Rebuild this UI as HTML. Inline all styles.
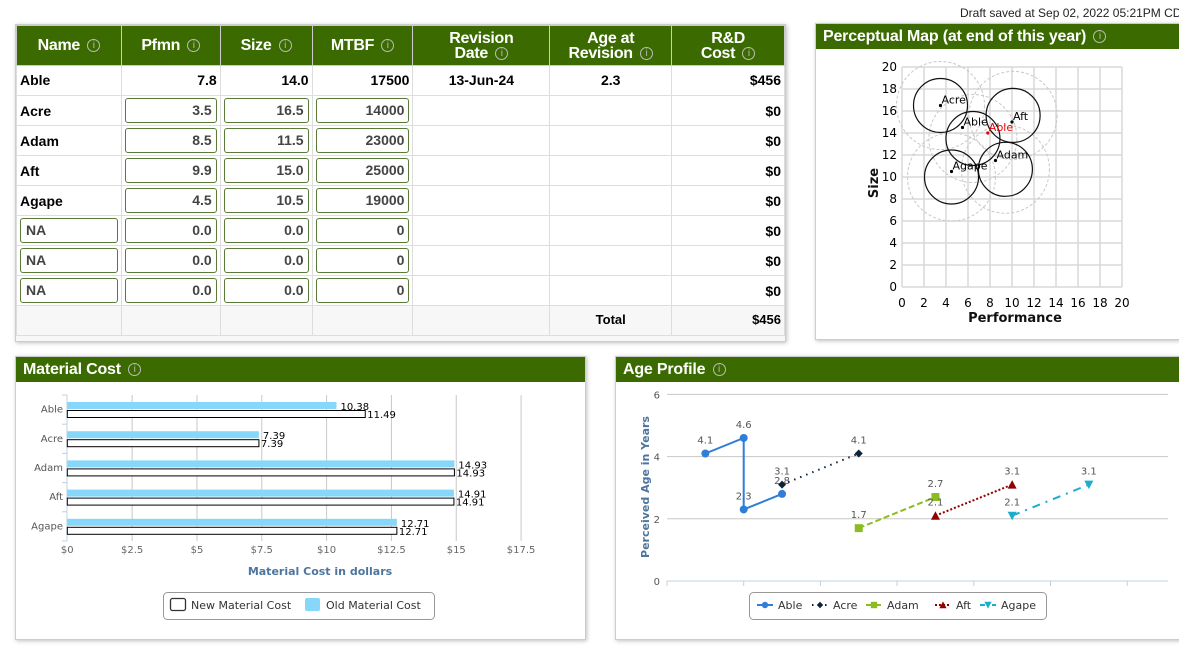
<!DOCTYPE html>
<html><head><meta charset="utf-8">
<style>
*{box-sizing:border-box;margin:0;padding:0}
body{width:1179px;height:652px;overflow:hidden;background:#fff;font-family:"Liberation Sans",sans-serif;position:relative}
.panel{position:absolute;background:#fff;border:1px solid #ccc;box-shadow:1px 1px 4px rgba(0,0,0,.25)}
.hdr{background:#3b6b00;color:#fff;font-family:"Liberation Sans",sans-serif;font-weight:bold;font-size:16px;letter-spacing:-0.2px;height:25px;line-height:25px;padding-left:7px}
.info{display:inline-block;width:13px;height:13px;border:1px solid #bbb;border-radius:50%;color:#bbb;font:normal 10px/11px "Liberation Sans",sans-serif;text-align:center;vertical-align:middle;margin-left:3px}
table{border-collapse:collapse;position:absolute;left:0;top:0;table-layout:fixed}
td,th{border:1px solid #ddd;font-size:14px;font-weight:bold;color:#000;padding:0 3px;height:30px;line-height:16px}
tr.d td{padding-bottom:2px}
th{background:#3b6b00;color:#fff;font-family:"Liberation Sans",sans-serif;font-size:16px;letter-spacing:-0.3px;line-height:15px;height:40px;border-color:#ccc;padding:0 3px}
td.r{text-align:right}
td.c{text-align:center}
.inp{border:1px solid #5a7a3a;border-radius:3px;height:25px;line-height:23px;text-align:right;padding-right:4px;background:#fff;font-weight:bold;color:#444}
.inpl{text-align:left;padding-left:5px}
svg text{font-family:"DejaVu Sans",sans-serif}
</style></head><body>
<div style="position:absolute;left:960px;top:6px;font-size:12px;color:#222;white-space:nowrap">Draft saved at Sep 02, 2022 05:21PM CDT</div>

<div class="panel" style="left:15px;top:24px;width:771px;height:318px;background:#f7f7f7;overflow:hidden">
<table>
<colgroup><col style="width:105px"><col style="width:99px"><col style="width:92px"><col style="width:101px"><col style="width:137px"><col style="width:122px"><col style="width:113px"></colgroup>
<tr><th>Name <span class="info">i</span></th><th>Pfmn <span class="info">i</span></th><th>Size <span class="info">i</span></th><th>MTBF <span class="info">i</span></th><th>Revision<br>Date <span class="info">i</span></th><th>Age at<br>Revision <span class="info">i</span></th><th>R&amp;D<br>Cost <span class="info">i</span></th></tr>
<tr class="d" style="background:#fff"><td>Able</td><td class="r">7.8</td><td class="r">14.0</td><td class="r">17500</td><td class="c">13-Jun-24</td><td class="c">2.3</td><td class="r">$456</td></tr>
<tr style="background:#fff"><td>Acre</td><td><div class="inp">3.5</div></td><td><div class="inp">16.5</div></td><td><div class="inp">14000</div></td><td></td><td></td><td class="r">$0</td></tr>
<tr style="background:#fff"><td>Adam</td><td><div class="inp">8.5</div></td><td><div class="inp">11.5</div></td><td><div class="inp">23000</div></td><td></td><td></td><td class="r">$0</td></tr>
<tr style="background:#fff"><td>Aft</td><td><div class="inp">9.9</div></td><td><div class="inp">15.0</div></td><td><div class="inp">25000</div></td><td></td><td></td><td class="r">$0</td></tr>
<tr style="background:#fff"><td>Agape</td><td><div class="inp">4.5</div></td><td><div class="inp">10.5</div></td><td><div class="inp">19000</div></td><td></td><td></td><td class="r">$0</td></tr>
<tr style="background:#fff"><td><div class="inp inpl">NA</div></td><td><div class="inp">0.0</div></td><td><div class="inp">0.0</div></td><td><div class="inp">0</div></td><td></td><td></td><td class="r">$0</td></tr>
<tr style="background:#fff"><td><div class="inp inpl">NA</div></td><td><div class="inp">0.0</div></td><td><div class="inp">0.0</div></td><td><div class="inp">0</div></td><td></td><td></td><td class="r">$0</td></tr>
<tr style="background:#fff"><td><div class="inp inpl">NA</div></td><td><div class="inp">0.0</div></td><td><div class="inp">0.0</div></td><td><div class="inp">0</div></td><td></td><td></td><td class="r">$0</td></tr>
<tr class="d"><td></td><td></td><td></td><td></td><td></td><td class="c" style="font-size:13px">Total</td><td class="r" style="font-size:13px">$456</td></tr>
</table>
</div>

<div class="panel" style="left:815px;top:23px;width:370px;height:317px">
<div class="hdr">Perceptual Map (at end of this year) <span class="info">i</span></div>
</div>

<div class="panel" style="left:15px;top:356px;width:571px;height:284px">
<div class="hdr">Material Cost <span class="info">i</span></div>
</div>

<div class="panel" style="left:615px;top:356px;width:570px;height:284px">
<div class="hdr">Age Profile <span class="info">i</span></div>
</div>

<svg id="svg" width="1179" height="652" style="position:absolute;left:0;top:0"></svg>

<script>
// ---- Perceptual map data ----
const pmNames = ["Acre","Able","Aft","Adam","Agape"];
const pmPerf = [3.5,5.5,10.0,8.5,4.5];
const pmSize = [16.5,14.5,15.0,11.5,10.5];
const pmIdealX = [3.5,6.45,10.1,9.4,4.5];
const pmIdealY = [16.5,13.5,15.6,10.7,10.0];
const pmCurrentName = ["Able"];
const pmCurrentPerf = [7.8];
const pmCurrentSize = [14.0];
const pmTicks = [0,2,4,6,8,10,12,14,16,18,20];

// ---- Material cost data ----
const mcCats = ["Able","Acre","Adam","Aft","Agape"];
const mcOld = [10.38,7.39,14.93,14.91,12.71];
const mcNew = [11.49,7.39,14.93,14.91,12.71];
const mcTicks = [0,2.5,5,7.5,10,12.5,15,17.5];
const mcTickLabels = ["$0","$2.5","$5","$7.5","$10","$12.5","$15","$17.5"];

// ---- Age profile data ----
const agSeries = ["Able","Acre","Adam","Aft","Agape"];
const agColors = ["#2f7ed8","#0d233a","#8bbc21","#910000","#1aadce"];
const agAbleX = [0.5,1,1,1.5], agAbleY = [4.1,4.6,2.3,2.8];
const agAcreX = [1.5,2.5], agAcreY = [3.1,4.1];
const agAdamX = [2.5,3.5], agAdamY = [1.7,2.7];
const agAftX = [3.5,4.5], agAftY = [2.1,3.1];
const agAgapeX = [4.5,5.5], agAgapeY = [2.1,3.1];
const agYTicks = [0,2,4,6];

const svg=document.getElementById('svg');
const NS='http://www.w3.org/2000/svg';
function mk(tag,attrs,parent){const e=document.createElementNS(NS,tag);for(const k in attrs)e.setAttribute(k,attrs[k]);(parent||svg).appendChild(e);return e;}
function tx(x,y,s,attrs){const e=mk('text',Object.assign({x:x,y:y},attrs||{}));e.textContent=s;return e;}

// Perceptual map
const px=v=>902+v*11, py=v=>287-v*11;
pmTicks.forEach(t=>{
  let g=mk('line',{x1:px(t),x2:px(t),y1:py(0),y2:py(20),stroke:'#d8d8d8','stroke-width':1.5});
  
  g=mk('line',{x1:px(0),x2:px(20),y1:py(t),y2:py(t),stroke:'#d8d8d8','stroke-width':1.5});
  
  let l=tx(px(t),307,String(t),{'font-size':12,'text-anchor':'middle',fill:'#000'});
  
  l=tx(897,py(t)+4,String(t),{'font-size':12,'text-anchor':'end',fill:'#000'});
  
});
let t=tx(1015,322,'Performance',{'font-size':13,'text-anchor':'middle','font-weight':'bold',fill:'#111'});

t=tx(0,0,'Size',{'font-size':13,'text-anchor':'middle','font-weight':'bold',fill:'#111',transform:'translate(878,183) rotate(-90)'});

pmNames.forEach((n,i)=>{
  let c=mk('circle',{cx:px(pmIdealX[i]),cy:py(pmIdealY[i]),r:44,fill:'none',stroke:'#c8c8c8','stroke-dasharray':'3,2'});
  
});
pmNames.forEach((n,i)=>{
  let c=mk('circle',{cx:px(pmIdealX[i]),cy:py(pmIdealY[i]),r:27,fill:'none',stroke:'#111','stroke-width':1.2});
  
  let d=mk('circle',{cx:px(pmPerf[i]),cy:py(pmSize[i]),r:1.6,fill:'#000'});
  
  let l=tx(px(pmPerf[i])+1,py(pmSize[i])-2,n,{'font-size':11,fill:'#000'});
  
});
pmCurrentName.forEach((n,i)=>{
  let d=mk('circle',{cx:px(pmCurrentPerf[i]),cy:py(pmCurrentSize[i]),r:1.6,fill:'#e00'});
  
  let l=tx(px(pmCurrentPerf[i])+1,py(pmCurrentSize[i])-2,n,{'font-size':11,fill:'#e00'});
  
});

// Material cost
const mx=v=>67.3+v*25.93;
const band=29.2, mTop=395;
mcTicks.forEach((v,i)=>{
  if(i>0){let g=mk('line',{x1:mx(v),x2:mx(v),y1:mTop,y2:541,stroke:'#c8c8c8'});
  }
  let l=tx(mx(v),553,mcTickLabels[i],{'font-size':10,'text-anchor':'middle',fill:'#666'});
  
});
mk('line',{x1:67,x2:67,y1:mTop,y2:541,stroke:'#c0d0e0'});
mcCats.forEach((c,i)=>{
  const y0=mTop+i*band;
  mk('line',{x1:62,x2:67,y1:y0,y2:y0,stroke:'#c0d0e0'});
  let l=tx(63,y0+band/2+3,c,{'font-size':10,'text-anchor':'end',fill:'#555'});
  
  let b=mk('rect',{x:mx(0),y:y0+7,width:mx(mcOld[i])-mx(0),height:7,fill:'#87d7fa'});
  
  b=mk('rect',{x:mx(0),y:y0+15.5,width:mx(mcNew[i])-mx(0),height:7,fill:'#fff',stroke:'#000','stroke-width':1});
  
  l=tx(mx(mcOld[i])+4,y0+15,mcOld[i].toFixed(2),{'font-size':10,fill:'#000'});
  
  l=tx(mx(mcNew[i])+2,y0+23,mcNew[i].toFixed(2),{'font-size':10,fill:'#000'});
  
});
mk('line',{x1:62,x2:67,y1:541,y2:541,stroke:'#c0d0e0'});
t=tx(320,575,'Material Cost in dollars',{'font-size':11,'text-anchor':'middle','font-weight':'bold',fill:'#4d759e'});

let lg=mk('rect',{x:163.5,y:592.5,width:271,height:27,rx:4,fill:'#fff',stroke:'#999'});

let li=mk('rect',{x:170.5,y:598.5,width:15,height:12,rx:2,fill:'#fff',stroke:'#333','stroke-width':1.3});

t=tx(191,609,'New Material Cost',{'font-size':11,fill:'#333'});

li=mk('rect',{x:305,y:598,width:15,height:13,rx:2,fill:'#87d7fa'});

t=tx(326,609,'Old Material Cost',{'font-size':11,fill:'#333'});


// Age profile
const ax=v=>667+v*76.7, ay=v=>581-v*31.1;
agYTicks.forEach(v=>{
  let g=mk('line',{x1:667,x2:1168,y1:ay(v),y2:ay(v),stroke:v===0?'#c0d0e0':'#c8c8c8'});
  
  let l=tx(660,ay(v)+4,String(v),{'font-size':10,'text-anchor':'end',fill:'#555'});
  
});
for(let i=0;i<=6;i++) mk('line',{x1:ax(i),x2:ax(i),y1:581,y2:586,stroke:'#c0d0e0'});
t=tx(0,0,'Perceived Age in Years',{'font-size':11,'text-anchor':'middle','font-weight':'bold',fill:'#4d759e',transform:'translate(649,487) rotate(-90)'});

const agX=[agAbleX,agAcreX,agAdamX,agAftX,agAgapeX], agY=[agAbleY,agAcreY,agAdamY,agAftY,agAgapeY];
const dash=['', '1.5,5', '6,3', '2,2', '8,6,2,6'];
function marker(k,x,y,s,parent){
  const c=agColors[k];
  if(k===0) return mk('circle',{cx:x,cy:y,r:4*s,fill:c},parent);
  if(k===1) return mk('path',{d:`M${x} ${y-4*s}L${x+4*s} ${y}L${x} ${y+4*s}L${x-4*s} ${y}Z`,fill:c},parent);
  if(k===2) return mk('rect',{x:x-4*s,y:y-4*s,width:8*s,height:8*s,fill:c},parent);
  if(k===3) return mk('path',{d:`M${x} ${y-4.5*s}L${x+4.5*s} ${y+4*s}L${x-4.5*s} ${y+4*s}Z`,fill:c},parent);
  return mk('path',{d:`M${x-4.5*s} ${y-4*s}L${x+4.5*s} ${y-4*s}L${x} ${y+4.5*s}Z`,fill:c},parent);
}
agSeries.forEach((n,k)=>{
  const pts=agX[k].map((v,i)=>ax(v)+','+ay(agY[k][i])).join(' ');
  const a={points:pts,fill:'none',stroke:agColors[k],'stroke-width':2};
  if(dash[k])a['stroke-dasharray']=dash[k];
  let pl=mk('polyline',a);
  
  agX[k].forEach((v,i)=>{
    let m=marker(k,ax(v),ay(agY[k][i]),1);
    
    let l=tx(ax(v),ay(agY[k][i])-10,agY[k][i].toFixed(1),{'font-size':10,'text-anchor':'middle',fill:'#555'});
    
  });
});
lg=mk('rect',{x:749.5,y:592.5,width:297,height:27,rx:4,fill:'#fff',stroke:'#999'});

const lgX=[757,812,866,935,980];
agSeries.forEach((n,k)=>{
  const x=lgX[k];
  const a={x1:x,x2:x+16,y1:605,y2:605,stroke:agColors[k],'stroke-width':2};
  if(dash[k])a['stroke-dasharray']=k===4?'5,3,1,3':dash[k];
  mk('line',a);
  marker(k,x+8,605,0.8);
  let l=tx(x+21,609,n,{'font-size':11,fill:'#333'});
  
});
</script>
</body></html>
